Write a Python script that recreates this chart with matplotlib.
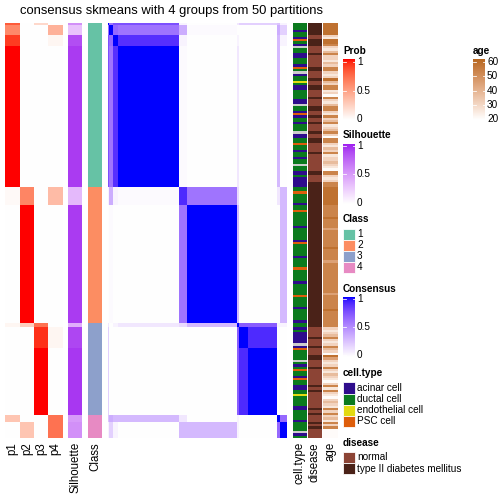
import numpy as np
import matplotlib

matplotlib.use("Agg")
import matplotlib.pyplot as plt
from matplotlib.colors import ListedColormap, to_rgb

plt.rcParams["font.family"] = ["Liberation Sans", "DejaVu Sans"]

# ---- data: sample groups (rows/cols sorted by class) ----
group_class = [1, 1, 1, 1, 2, 2, 3, 3, 3, 4, 4]
group_size = [1, 4, 5, 61, 8, 51, 2, 9, 29, 3, 7]
group_p1 = [0.8, 0.6, 0.9, 1.0, 0.03, 0.0, 0.05, 0.0, 0.0, 0.3, 0.0]
group_p2 = [0.0, 0.0, 0.0, 0.0, 0.62, 1.0, 0.25, 0.0, 0.0, 0.0, 0.3]
group_p3 = [0.2, 0.0, 0.0, 0.0, 0.0, 0.0, 0.7, 0.93, 1.0, 0.0, 0.0]
group_p4 = [0.0, 0.4, 0.05, 0.0, 0.35, 0.0, 0.0, 0.05, 0.0, 0.7, 0.7]
group_sil = [0.55, 0.3, 0.85, 0.92, 0.35, 0.92, 0.4, 0.88, 0.93, 0.5, 0.55]

# consensus between groups (order as above)
group_consensus = [
    [1.00, 0.60, 0.75, 0.75, 0.05, 0.00, 0.10, 0.20, 0.20, 0.25, 0.05],
    [0.60, 1.00, 0.65, 0.60, 0.35, 0.02, 0.00, 0.00, 0.00, 0.35, 0.20],
    [0.75, 0.65, 1.00, 0.88, 0.05, 0.00, 0.05, 0.00, 0.00, 0.30, 0.05],
    [0.75, 0.60, 0.88, 1.00, 0.02, 0.00, 0.10, 0.00, 0.00, 0.30, 0.00],
    [0.05, 0.35, 0.05, 0.02, 0.90, 0.60, 0.15, 0.00, 0.00, 0.10, 0.30],
    [0.00, 0.02, 0.00, 0.00, 0.60, 1.00, 0.30, 0.00, 0.00, 0.00, 0.30],
    [0.10, 0.00, 0.05, 0.10, 0.15, 0.30, 1.00, 0.70, 0.70, 0.05, 0.05],
    [0.20, 0.00, 0.00, 0.00, 0.00, 0.00, 0.70, 1.00, 0.90, 0.00, 0.00],
    [0.20, 0.00, 0.00, 0.00, 0.00, 0.00, 0.70, 0.90, 1.00, 0.00, 0.00],
    [0.25, 0.35, 0.30, 0.30, 0.10, 0.00, 0.05, 0.00, 0.00, 1.00, 0.65],
    [0.05, 0.20, 0.05, 0.00, 0.30, 0.30, 0.05, 0.00, 0.00, 0.65, 1.00],
]

# per-sample annotations (A acinar, D ductal, E endothelial, P PSC, N missing)
cell_type = (
    "DDDADDAPDA" "NDDAADDDAP" "DNADDEDAAD" "DDDAANDDAP" "ADDADDDNAA" "DDPDDADDAD" "DNDDAADAAA" "A"
    "DDPDDDDADD" "PDDDDDDADD" "DDDAPDDDDD" "ADDDDPDDDD" "DADDDDDPDD" "DDADDDDDA"
    "DDADAAAAAN" "APDDDDNDAD" "PDDAPDDAAD" "DEDDDDAADD"
    "DDADDDDNAD"
)
disease = (
    "tttttnnttt" "nnntnnnnnt" "tnnntnnttn" "nntnnnttnn" "tnntnnntnn" "ttnnnntnnn" "nnnnttnnnt" "t"
    "tttttttttt" "tttttttttt" "tttttttttt" "tttttttttt" "tttttttttt" "ttttttttt"
    "ttnnnntnnn" "tnnnttnnnt" "nnnnnnntnt" "nnnnnnntnt"
    "nnntntnnnn"
)
age_code = (
    "BBBBBEFBBA" "EFDAEEFDEA" "AEFEBDEAAF" "EGAEFDAAEF" "AEDAFEDAEG" "AAEFDEAFEE" "DEFGAAEFEA" "A"
    "BBBBBBBBAA" "AAABAAAACA" "AAAAAABAAA" "AACAAAAAAA" "AAAAAACAAA" "AAABAAAAA"
    "AAEFEDAEFE" "ADEGBCEFEA" "EFDEFGEAFA" "EFGEDEFAEA"
    "EDFAEAGGGG"
)
age_keys = ["G", "F", "E", "D", "C", "A", "B"]
age_values = [21, 26, 31, 37, 44, 52, 57]

class_colors = ["#66C2A5", "#FC8D62", "#8DA0CB", "#E78AC3"]
cell_names = ["acinar cell", "ductal cell", "endothelial cell", "PSC cell"]
cell_colors = {"A": "#2E0C8C", "D": "#0B7A1E", "E": "#E3DA12", "P": "#DE5E0B", "N": "#CCCCCC"}
disease_names = ["normal", "type II diabetes mellitus"]
disease_colors = {"n": "#8C4435", "t": "#4A2218"}


def srgb_to_lab(c):
    c = np.asarray(to_rgb(c), float)
    lin = np.where(c <= 0.04045, c / 12.92, ((c + 0.055) / 1.055) ** 2.4)
    m = np.array([[0.4124, 0.3576, 0.1805], [0.2126, 0.7152, 0.0722], [0.0193, 0.1192, 0.9505]])
    t = (m @ lin) / np.array([0.95047, 1.0, 1.08883])
    f = np.where(t > (6 / 29) ** 3, np.cbrt(t), t / (3 * (6 / 29) ** 2) + 4 / 29)
    return np.array([116 * f[1] - 16, 500 * (f[0] - f[1]), 200 * (f[1] - f[2])])


def lab_to_srgb(lab):
    L, a, b = lab[:, 0], lab[:, 1], lab[:, 2]
    fy = (L + 16) / 116
    f = np.stack([fy + a / 500, fy, fy - b / 200], axis=1)
    t = np.where(f > 6 / 29, f ** 3, 3 * (6 / 29) ** 2 * (f - 4 / 29))
    xyz = t * np.array([0.95047, 1.0, 1.08883])
    minv = np.array([[3.2406, -1.5372, -0.4986], [-0.9689, 1.8758, 0.0415], [0.0557, -0.2040, 1.0570]])
    lin = xyz @ minv.T
    lin = np.clip(lin, 0, 1)
    c = np.where(lin <= 0.0031308, lin * 12.92, 1.055 * lin ** (1 / 2.4) - 0.055)
    return np.clip(c, 0, 1)


def lab_cmap(c0, c1, n=256):
    l0, l1 = srgb_to_lab(c0), srgb_to_lab(c1)
    s = np.linspace(0, 1, n)[:, None]
    return ListedColormap(lab_to_srgb(l0 + (l1 - l0) * s))


cm_prob = lab_cmap("white", "red")
cm_sil = lab_cmap("white", "#A020F0")
cm_cons = lab_cmap("white", "blue")
cm_age = lab_cmap("white", "#B8671F")

# expand groups to samples
sizes = np.array(group_size)
cls = np.repeat(group_class, sizes)
probs = [np.repeat(p, sizes) for p in (group_p1, group_p2, group_p3, group_p4)]
sil = np.repeat(group_sil, sizes)
gidx = np.repeat(np.arange(len(sizes)), sizes)
consensus = np.array(group_consensus)[np.ix_(gidx, gidx)]
ages = np.array([age_values[age_keys.index(k)] for k in age_code])
n = len(cls)
assert len(cell_type) == n and len(disease) == n and len(ages) == n

fig = plt.figure(figsize=(7, 7), dpi=72)
ax = fig.add_axes([0, 0, 1, 1])
ax.set_xlim(0, 504)
ax.set_ylim(504, 0)
ax.axis("off")

top, bot = 23, 438


def column(img, x0, x1, **kw):
    ax.imshow(img, extent=(x0, x1, bot, top), aspect="auto", interpolation="nearest", **kw)


for i, (x0, x1) in enumerate([(5, 19.5), (19.5, 34), (34, 48.3), (48.3, 62.7)]):
    column(probs[i][:, None], x0, x1, cmap=cm_prob, vmin=0, vmax=1)
column(sil[:, None], 68.3, 82, cmap=cm_sil, vmin=0, vmax=1)
column(np.array([to_rgb(class_colors[c - 1]) for c in cls])[:, None, :], 88, 102)
column(consensus, 108, 287, cmap=cm_cons, vmin=0, vmax=1)
column(np.array([to_rgb(cell_colors[c]) for c in cell_type])[:, None, :], 293, 307)
column(np.array([to_rgb(disease_colors[d]) for d in disease])[:, None, :], 308, 322)
column(ages[:, None], 323, 337.5, cmap=cm_age, vmin=20, vmax=60)

ax.text(171, 11, "consensus skmeans with 4 groups from 50 partitions",
        ha="center", va="center", fontsize=13)

bottom_labels = ["p1", "p2", "p3", "p4", "Silhouette", "Class", "cell.type", "disease", "age"]
bottom_x = [12.3, 26.8, 41.2, 55.5, 75.2, 95, 300, 315, 330.3]
for lab, x in zip(bottom_labels, bottom_x):
    ax.text(x, 442, lab, rotation=90, ha="center", va="top", fontsize=11.5)


# ---- legends ----
def colorbar_legend(x, y_title, title, cmap, ticks, labels, vmin, vmax, y_hi, y_lo):
    ax.text(x, y_title, title, fontsize=10, fontweight="bold", va="center", ha="left")
    grad = np.linspace(vmax, vmin, 100)[:, None]
    ax.imshow(grad, extent=(x, x + 12, y_lo + 1.5, y_hi - 2), aspect="auto",
              cmap=cmap, vmin=vmin, vmax=vmax, interpolation="bilinear")
    for t, lab in zip(ticks, labels):
        y = y_lo - (t - vmin) / (vmax - vmin) * (y_lo - y_hi)
        ax.plot([x, x + 2.5], [y, y], color="white", lw=0.8)
        ax.plot([x + 9.5, x + 12], [y, y], color="white", lw=0.8)
        ax.text(x + 14, y, lab, fontsize=10, va="center", ha="left")


def discrete_legend(x, y_title, title, colors, labels, y0, h):
    ax.text(x, y_title, title, fontsize=10, fontweight="bold", va="center", ha="left")
    for i, (c, lab) in enumerate(zip(colors, labels)):
        y = y0 + i * h
        ax.add_patch(plt.Rectangle((x, y), 11.5, h, facecolor=c, edgecolor="white", lw=0.8))
        ax.text(x + 14, y + h / 2, lab, fontsize=10, va="center", ha="left")


colorbar_legend(343, 51, "Prob", cm_prob, [0, 0.5, 1], ["0", "0.5", "1"], 0, 1, 62.3, 119)
colorbar_legend(473, 51, "age", cm_age, [20, 30, 40, 50, 60], ["20", "30", "40", "50", "60"],
                20, 60, 62.3, 119)
colorbar_legend(343, 135, "Silhouette", cm_sil, [0, 0.5, 1], ["0", "0.5", "1"], 0, 1, 146, 202.5)
discrete_legend(343, 219, "Class", class_colors, ["1", "2", "3", "4"], 228.7, 11)
colorbar_legend(343, 289, "Consensus", cm_cons, [0, 0.5, 1], ["0", "0.5", "1"], 0, 1, 299.3, 355.3)
discrete_legend(343, 373.5, "cell.type", [cell_colors[k] for k in "ADEP"], cell_names, 382.3, 11.2)
discrete_legend(343, 443, "disease", [disease_colors[k] for k in "nt"], disease_names, 451.7, 11.3)

fig.savefig("out.png", dpi=72)
